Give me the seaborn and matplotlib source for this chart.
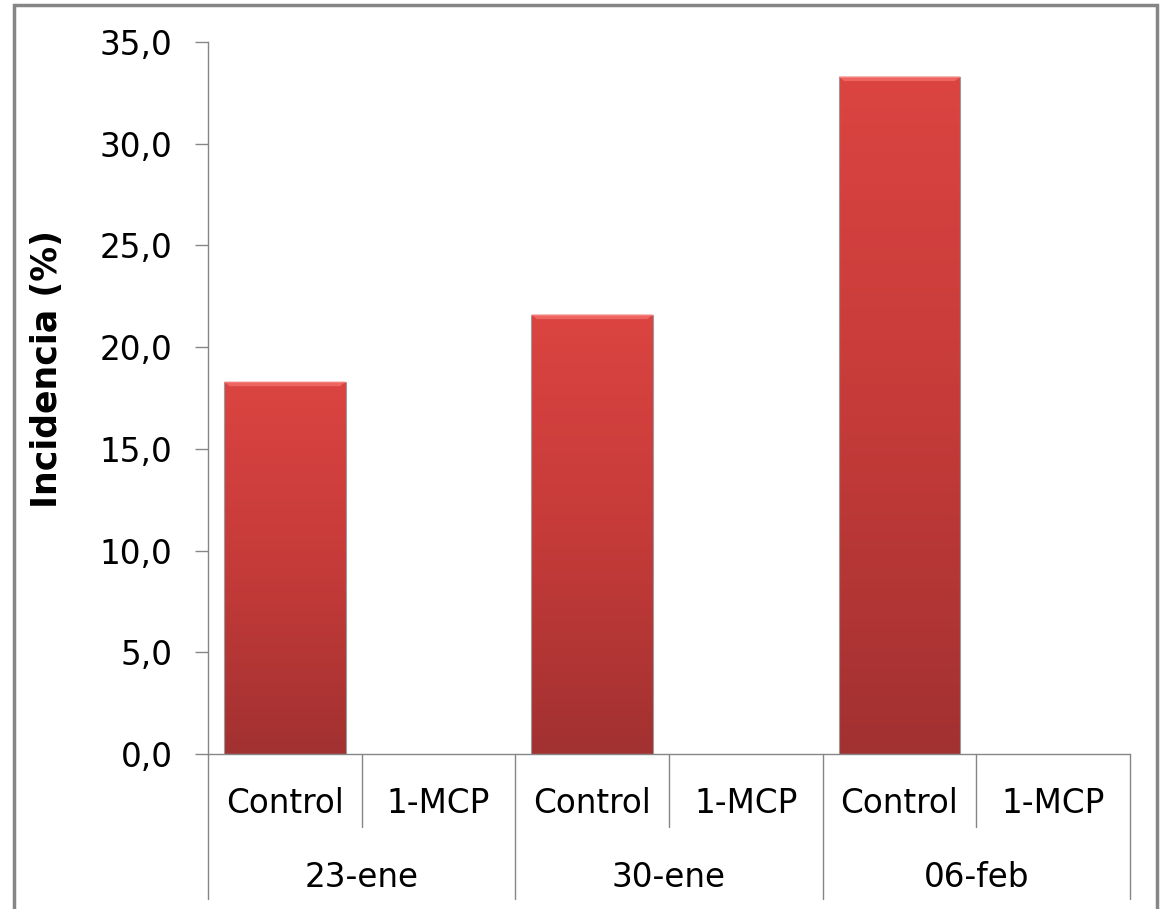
import matplotlib
matplotlib.use("Agg")
import matplotlib.pyplot as plt
import seaborn as sns
import numpy as np
import pandas as pd
from matplotlib.patches import Rectangle, Polygon
from matplotlib.colors import LinearSegmentedColormap

# ---- data ----
dates = ["23-ene", "30-ene", "06-feb"]
treatments = ["Control", "1-MCP"]
control_values = [18.3, 21.6, 33.3]
mcp_values = [0.0, 0.0, 0.0]
y_ticks = [0, 5, 10, 15, 20, 25, 30, 35]
y_label = "Incidencia (%)"

rows = []
for d, c, m in zip(dates, control_values, mcp_values):
    rows.append({"cat": f"{d}|Control", "date": d, "trat": "Control", "val": c})
    rows.append({"cat": f"{d}|1-MCP", "date": d, "trat": "1-MCP", "val": m})
df = pd.DataFrame(rows)
order = list(df["cat"])

sns.set_theme(style="white")
plt.rcParams["font.family"] = ["DejaVu Sans"]
plt.rcParams["text.color"] = "black"

W, H = 1161, 909
fig = plt.figure(figsize=(W / 100, H / 100), dpi=100)
ax = fig.add_axes([208 / W, 1 - 754 / H, (1130 - 208) / W, (754 - 42) / H])

sns.barplot(data=df, x="cat", y="val", order=order, color="#C73A38",
            width=0.79, ax=ax, errorbar=None, saturation=1)

# gradient fill for bars
cmap = LinearSegmentedColormap.from_list("g", ["#A23131", "#C53B39", "#DB4441"])
grad = np.linspace(0, 1, 256).reshape(-1, 1)
bev = 0.22
for p in ax.patches:
    h = p.get_height()
    if h <= 0:
        p.set_visible(False)
        continue
    x0 = p.get_x(); w = p.get_width()
    p.set_facecolor("none")
    p.set_edgecolor("#9A9A9A")
    p.set_linewidth(0.8)
    im = ax.imshow(grad, cmap=cmap, origin="lower", aspect="auto",
                   extent=[x0, x0 + w, 0, h], zorder=p.get_zorder() - 0.1)
    im.set_clip_path(p)
    # bevel on top (light band with slanted corners)
    dx = 0.035
    ax.add_patch(Polygon([[x0, h], [x0 + w, h], [x0 + w - dx, h - bev], [x0 + dx, h - bev]],
                         closed=True, facecolor="#EE6461", edgecolor="none",
                         zorder=p.get_zorder()))
    ax.add_patch(Rectangle((x0, h - 0.07), w, 0.07, facecolor="#F47D78",
                           edgecolor="none", zorder=p.get_zorder()))

ax.set_xlim(-0.5, 5.5)
ax.set_ylim(0, 35)
ax.set_yticks(y_ticks)
ax.set_yticklabels([f"{v:.1f}".replace(".", ",") for v in y_ticks], fontsize=23.5, color="black")
ax.tick_params(axis="y", which="major", left=True, length=9.5, width=1, color="#868686", pad=16)
ax.set_xticks([])
ax.set_xlabel("")
ax.set_ylabel(y_label, fontsize=25, fontweight="bold", color="black")
ax.yaxis.set_label_coords(-0.156, 0.541)

for s in ["top", "right"]:
    ax.spines[s].set_visible(False)
for s in ["left", "bottom"]:
    ax.spines[s].set_color("#868686")
    ax.spines[s].set_linewidth(1.0)

# multi-level category axis
tr = ax.get_xaxis_transform()
for b in [0.5, 2.5, 4.5]:
    ax.plot([b, b], [0, -0.1025], transform=tr, color="#868686", lw=1, clip_on=False)
for b in [-0.5, 1.5, 3.5, 5.5]:
    ax.plot([b, b], [0, -0.2037], transform=tr, color="#868686", lw=1, clip_on=False)
for i, c in enumerate(order):
    d, t = c.split("|")
    ax.text(i, -0.069, t, transform=tr, ha="center", va="center", fontsize=23.5, color="black")
for j, d in enumerate(dates):
    ax.text(2 * j + 0.5, -0.174, d, transform=tr, ha="center", va="center", fontsize=23.5, color="black")

# outer chart border
fig.patches.append(Rectangle((14 / W, -0.05), (1157 - 14) / W, 1.05 - 5 / H,
                             transform=fig.transFigure, facecolor="none",
                             edgecolor="#868686", lw=2.5))

fig.savefig("out.png", dpi=100, facecolor="white")
